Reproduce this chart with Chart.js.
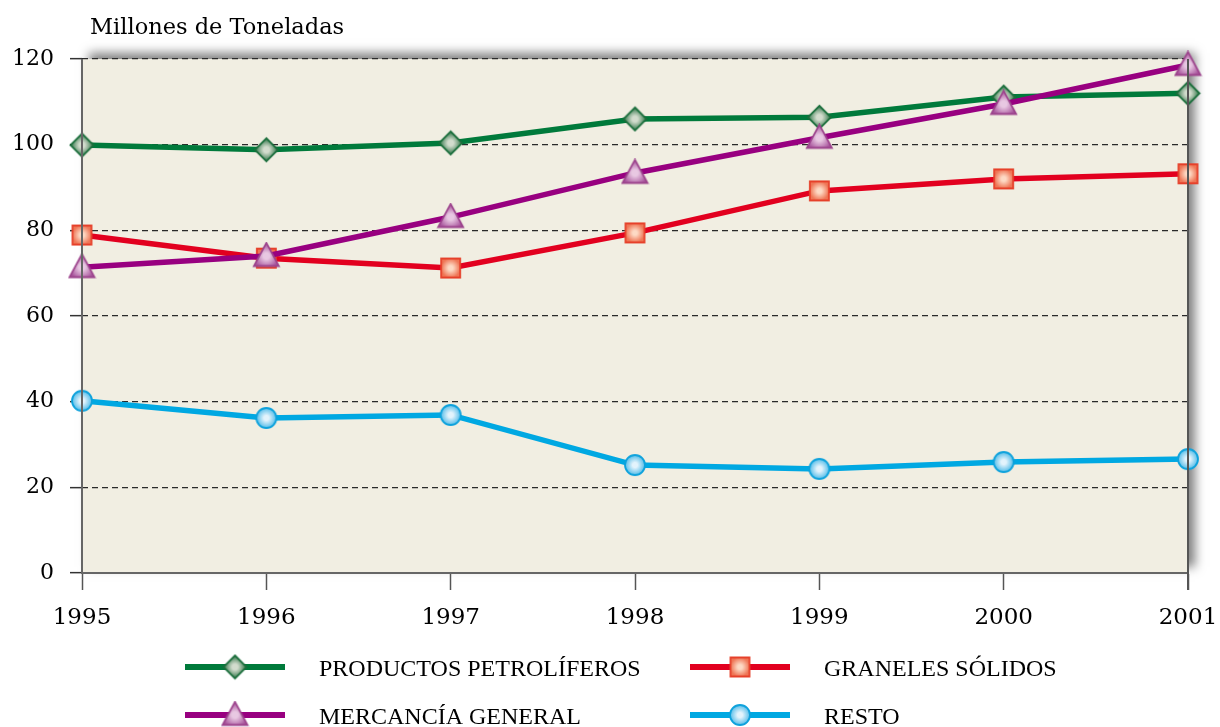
<!DOCTYPE html>
<html>
<head>
<meta charset="utf-8">
<script src="https://cdn.jsdelivr.net/npm/chart.js@4.4.0/dist/chart.umd.min.js"></script>
<style>
  html, body { margin: 0; padding: 0; background: #fff; }
  canvas { display: block; }
</style>
</head>
<body>
<canvas id="chart" width="1220" height="727"></canvas>
<script>
// datos (millones de toneladas)
const years = ['1995', '1996', '1997', '1998', '1999', '2000', '2001'];
const petroliferos = [99.9, 98.8, 100.4, 106.0, 106.4, 111.1, 112.0];
const graneles = [78.9, 73.5, 71.2, 79.4, 89.2, 92.0, 93.2];
const mercancia = [71.4, 74.0, 83.1, 93.4, 101.6, 109.5, 118.6];
const resto = [40.2, 36.2, 36.9, 25.2, 24.3, 25.9, 26.6];
const yTicks = [0, 20, 40, 60, 80, 100, 120];
const seriesNames = ['PRODUCTOS PETROLÍFEROS', 'GRANELES SÓLIDOS', 'MERCANCÍA GENERAL', 'RESTO'];

const GREEN = '#007a3b';
const RED = '#e2001f';
const PURPLE = '#980080';
const BLUE = '#00a8e2';

// marcador con degradado, se usa como pointStyle
const makeMarker = (shape, size, edge, light, mid) => {
  const c = document.createElement('canvas');
  c.width = size + 4;
  c.height = size + 4;
  const g = c.getContext('2d');
  const cx = c.width / 2, cy = c.height / 2, r = size / 2;
  g.beginPath();
  if (shape === 'diamond') {
    g.moveTo(cx, cy - r); g.lineTo(cx + r, cy); g.lineTo(cx, cy + r); g.lineTo(cx - r, cy);
    g.closePath();
  } else if (shape === 'square') {
    g.rect(cx - r, cy - r, size, size);
  } else if (shape === 'triangle') {
    g.moveTo(cx, cy - r * 1.05); g.lineTo(cx + r, cy + r * 0.8); g.lineTo(cx - r, cy + r * 0.8);
    g.closePath();
  } else {
    g.arc(cx, cy, r, 0, Math.PI * 2);
  }
  const grad = g.createRadialGradient(cx, cy, 0, cx, cy, r);
  grad.addColorStop(0, light);
  grad.addColorStop(0.25, light);
  grad.addColorStop(1, mid);
  g.fillStyle = grad;
  g.fill();
  g.lineWidth = 1.8;
  g.strokeStyle = edge;
  g.stroke();
  return c;
};

const markers = {
  diamond: makeMarker('diamond', 23, '#1b6e3c', '#d2dccd', '#2f7446'),
  square: makeMarker('square', 19, '#e6402a', '#fdd9c4', '#ef7555'),
  triangle: makeMarker('triangle', 25, '#9c438c', '#e8c8e2', '#a8549c'),
  circle: makeMarker('circle', 20, '#0ea2dc', '#e3f3fc', '#55bde9')
};

const serifFont = 'DejaVu Serif';

// fondo con sombra, titulo, bordes y leyenda
const framePlugin = {
  id: 'frame',
  beforeDraw(chart) {
    const { ctx, chartArea: a } = chart;
    ctx.save();
    ctx.shadowColor = 'rgba(0,0,0,0.5)';
    ctx.shadowBlur = 10;
    ctx.shadowOffsetX = 7;
    ctx.shadowOffsetY = -6;
    ctx.fillStyle = '#f1eee2';
    ctx.fillRect(a.left, a.top, a.right - a.left, a.bottom - a.top);
    ctx.restore();

    ctx.save();
    ctx.fillStyle = '#000';
    ctx.font = '22.5px "' + serifFont + '"';
    ctx.textBaseline = 'alphabetic';
    ctx.fillText('Millones de Toneladas', 90, 34);
    ctx.restore();
  },
  afterDraw(chart) {
    const { ctx, chartArea: a } = chart;
    ctx.save();
    ctx.strokeStyle = '#666';
    ctx.lineWidth = 2;
    ctx.beginPath();
    ctx.moveTo(a.left, a.top);
    ctx.lineTo(a.left, a.bottom);
    ctx.stroke();
    ctx.strokeStyle = '#555';
    ctx.beginPath();
    ctx.moveTo(a.right, a.top);
    ctx.lineTo(a.right, a.bottom + 17);
    ctx.stroke();
    ctx.restore();

    // leyenda en dos columnas
    const entries = [
      { text: seriesNames[0], color: GREEN, marker: markers.diamond, x: 185, y: 667 },
      { text: seriesNames[1], color: RED, marker: markers.square, x: 690, y: 667 },
      { text: seriesNames[2], color: PURPLE, marker: markers.triangle, x: 185, y: 715 },
      { text: seriesNames[3], color: BLUE, marker: markers.circle, x: 690, y: 715 }
    ];
    ctx.save();
    entries.forEach(e => {
      ctx.strokeStyle = e.color;
      ctx.lineWidth = 6;
      ctx.beginPath();
      ctx.moveTo(e.x, e.y);
      ctx.lineTo(e.x + 100, e.y);
      ctx.stroke();
      ctx.drawImage(e.marker, e.x + 50 - e.marker.width / 2, e.y - e.marker.height / 2);
      ctx.fillStyle = '#000';
      ctx.font = '24px "Liberation Serif"';
      ctx.textBaseline = 'alphabetic';
      ctx.fillText(e.text, e.x + 134, e.y + 9);
    });
    ctx.restore();
  }
};

const ds = (label, data, color, marker, order) => ({
  label,
  data,
  borderColor: color,
  backgroundColor: color,
  borderWidth: 5.5,
  tension: 0,
  pointStyle: marker,
  pointRadius: 11,
  pointHoverRadius: 11,
  order
});

new Chart(document.getElementById('chart'), {
  type: 'line',
  data: {
    labels: years,
    datasets: [
      ds(seriesNames[0], petroliferos, GREEN, markers.diamond, 2),
      ds(seriesNames[1], graneles, RED, markers.square, 3),
      ds(seriesNames[2], mercancia, PURPLE, markers.triangle, 1),
      ds(seriesNames[3], resto, BLUE, markers.circle, 4)
    ]
  },
  options: {
    responsive: false,
    animation: false,
    clip: false,
    layout: { padding: { top: 59, right: 32, left: 0, bottom: 0 } },
    plugins: {
      legend: { display: false },
      tooltip: { enabled: false }
    },
    scales: {
      x: {
        offset: false,
        afterFit: (scale) => {
          scale.height = 154;
          scale.paddingLeft = 0;
          scale.paddingRight = 0;
        },
        grid: {
          drawOnChartArea: false,
          tickColor: '#555',
          tickLength: 17,
          tickWidth: 1.5
        },
        border: { color: '#666', width: 2 },
        ticks: {
          color: '#000',
          padding: 14,
          maxRotation: 0,
          font: { family: serifFont, size: 23 }
        }
      },
      y: {
        min: 0,
        max: 120,
        afterFit: (scale) => {
          scale.width = 82;
          scale.paddingTop = 0;
          scale.paddingBottom = 0;
        },
        afterBuildTicks: (scale) => { scale.ticks = yTicks.map(v => ({ value: v })); },
        grid: {
          color: '#2a2a2a',
          lineWidth: 1.3,
          tickBorderDash: [],
          tickColor: '#333',
          tickWidth: 1.5,
          tickLength: 12
        },
        border: { display: false, dash: [6, 4] },
        ticks: {
          color: '#000',
          padding: 16,
          font: { family: serifFont, size: 22 }
        }
      }
    }
  },
  plugins: [framePlugin]
});
</script>
</body>
</html>
